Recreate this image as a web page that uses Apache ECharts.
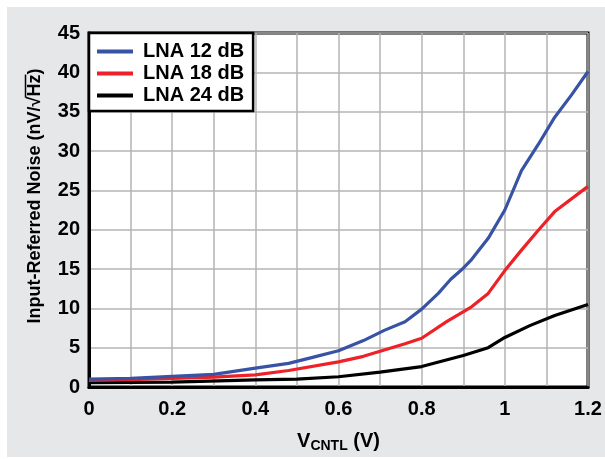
<!DOCTYPE html>
<html>
<head>
<meta charset="utf-8">
<script src="https://cdn.jsdelivr.net/npm/echarts@6/dist/echarts.min.js"></script>
<style>
  html, body { margin: 0; padding: 0; background: #fff; }
  #chart { width: 605px; height: 459px; }
</style>
</head>
<body>
<div id="chart"></div>
<script>
// values
const seriesNames = ['LNA 12 dB', 'LNA 18 dB', 'LNA 24 dB'];
const seriesColors = ['#3953a4', '#ed2127', '#000000'];

const x12 = [0, 0.1, 0.2, 0.3, 0.4, 0.48, 0.54, 0.6, 0.66, 0.71, 0.76, 0.8, 0.84, 0.87, 0.9, 0.92, 0.96, 1.0, 1.04, 1.08, 1.12, 1.16, 1.2];
const y12 = [1.0, 1.1, 1.35, 1.6, 2.4, 3.0, 3.8, 4.6, 5.9, 7.2, 8.3, 9.9, 11.9, 13.7, 15.1, 16.2, 18.9, 22.5, 27.5, 30.8, 34.3, 37.1, 40.1];

const x18 = [0, 0.1, 0.2, 0.3, 0.4, 0.48, 0.6, 0.66, 0.71, 0.76, 0.8, 0.86, 0.92, 0.96, 1.0, 1.04, 1.08, 1.12, 1.2];
const y18 = [0.85, 0.95, 1.1, 1.25, 1.55, 2.1, 3.2, 3.9, 4.7, 5.5, 6.2, 8.3, 10.2, 11.9, 14.8, 17.4, 19.9, 22.3, 25.5];

const x24 = [0, 0.2, 0.4, 0.5, 0.6, 0.7, 0.8, 0.9, 0.96, 1.0, 1.06, 1.12, 1.2];
const y24 = [0.55, 0.62, 0.9, 1.0, 1.3, 1.9, 2.6, 4.0, 5.0, 6.3, 7.8, 9.1, 10.5];

const xs = [x12, x18, x24];
const ys = [y12, y18, y24];

const yTitlePre = 'Input-Referred Noise (nV/\u221A';
const yTitleRad = 'Hz';
const yTitlePost = ')';

const FONT = 'Liberation Sans, Arial, sans-serif';

// where the overline over "Hz" goes
const Y_NAME_SIZE = 18;
const yNameX = 35, yNameY = 196;
const ctx = document.createElement('canvas').getContext('2d');
ctx.font = `bold ${Y_NAME_SIZE}px ${FONT}`;
const wAll = ctx.measureText(yTitlePre + yTitleRad + yTitlePost).width;
const wPre = ctx.measureText(yTitlePre).width;
const wRad = ctx.measureText(yTitleRad).width;
const barStart = yNameY + wAll / 2 - wPre + 1;
const barEnd = barStart - wRad - 1;
const barX = yNameX - 9.5;

const chart = echarts.init(document.getElementById('chart'));

const series = seriesNames.map((name, i) => ({
  name: name,
  type: 'line',
  symbol: 'none',
  data: xs[i].map((x, k) => [x, ys[i][k]]),
  lineStyle: { color: seriesColors[i], width: 3.2 },
  itemStyle: { color: seriesColors[i] },
  z: 5 - i,
}));

const option = {
  animation: false,
  graphic: [
    {
      type: 'rect',
      z: -10,
      shape: { x: 7, y: 7, width: 598, height: 450 },
      style: { fill: '#e6e7e8' },
    },
    {
      type: 'text',
      x: yNameX,
      y: yNameY,
      rotation: Math.PI / 2,
      style: {
        text: yTitlePre + yTitleRad + yTitlePost,
        font: `bold ${Y_NAME_SIZE}px ${FONT}`,
        fill: '#000',
        align: 'center',
        verticalAlign: 'middle',
      },
    },
    {
      type: 'line',
      shape: { x1: barX, y1: barStart, x2: barX, y2: barEnd },
      style: { stroke: '#000', lineWidth: 1.5 },
    },
  ],
  grid: {
    left: 89, top: 33, right: 17, bottom: 72,
    show: true,
    backgroundColor: '#fff',
    borderColor: '#000',
    borderWidth: 3,
  },
  legend: {
    orient: 'vertical',
    left: 89,
    top: 33,
    backgroundColor: '#fff',
    borderColor: '#000',
    borderWidth: 2.5,
    padding: [8, 9, 5, 8],
    itemGap: 1,
    itemWidth: 36,
    itemHeight: 4,
    icon: 'rect',
    textStyle: {
      fontFamily: FONT,
      fontWeight: 'bold',
      fontSize: 20,
      color: '#000',
      lineHeight: 21,
      padding: [0, 0, 0, 5],
    },
    data: seriesNames,
  },
  xAxis: {
    type: 'value',
    min: 0,
    max: 1.2,
    interval: 0.2,
    name: 'V{sub|CNTL} (V)',
    nameLocation: 'middle',
    nameGap: 43,
    nameTextStyle: {
      fontFamily: FONT,
      fontWeight: 'bold',
      fontSize: 20,
      color: '#000',
      rich: {
        sub: { fontFamily: FONT, fontWeight: 'bold', fontSize: 14, color: '#000', verticalAlign: 'bottom', padding: [9, 0, 0, 0] },
      },
    },
    axisLine: { show: true, lineStyle: { color: '#000', width: 3 } },
    axisTick: { show: false },
    axisLabel: {
      fontFamily: FONT,
      fontWeight: 'bold',
      fontSize: 20,
      color: '#000',
      margin: 12,
      formatter: v => String(+v.toFixed(1)),
    },
    splitLine: { show: true, lineStyle: { color: '#b4b4b4', width: 1.5 } },
    minorTick: { show: false, splitNumber: 2 },
    minorSplitLine: { show: true, lineStyle: { color: '#b4b4b4', width: 1.5 } },
  },
  yAxis: {
    type: 'value',
    min: 0,
    max: 45,
    interval: 5,
    axisLine: { show: true, lineStyle: { color: '#000', width: 3 } },
    axisTick: { show: false },
    axisLabel: {
      fontFamily: FONT,
      fontWeight: 'bold',
      fontSize: 20,
      color: '#000',
      margin: 9,
    },
    splitLine: { show: true, lineStyle: { color: '#b4b4b4', width: 1.5 } },
  },
  series: series,
};

chart.setOption(option);
</script>
</body>
</html>
